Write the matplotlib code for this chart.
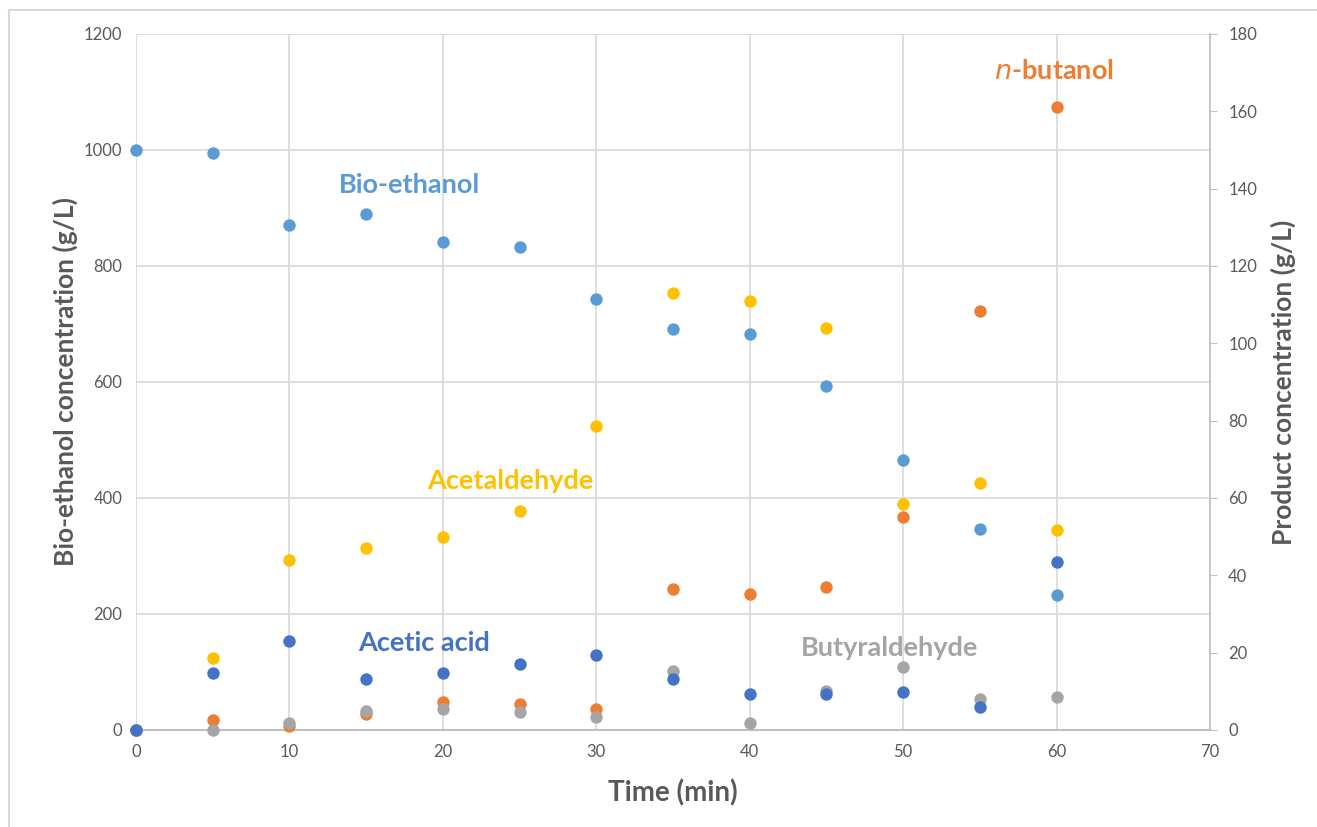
import matplotlib
matplotlib.use('Agg')
import matplotlib.pyplot as plt
from matplotlib.lines import Line2D

plt.rcParams['font.family'] = ['Lato', 'DejaVu Sans']

# data
time = [0, 5, 10, 15, 20, 25, 30, 35, 40, 45, 50, 55, 60]
ethanol = [1000, 995, 871, 890, 841, 833, 743, 691, 683, 593, 466, 347, 232]          # left axis
acetaldehyde = [0, 18.6, 44, 47, 50, 56.6, 78.6, 113, 111, 104, 58.4, 64, 51.7]        # right axis
butanol = [0, 2.6, 1.0, 4.2, 7.2, 6.7, 5.4, 36.5, 35.2, 37, 55, 108.4, 161]
butyraldehyde = [0, 0, 1.8, 4.9, 5.4, 4.7, 3.4, 15.3, 1.8, 10, 16.3, 8, 8.6]
acetic = [0, 14.8, 23, 13.2, 14.8, 17, 19.4, 13.2, 9.3, 9.3, 9.8, 6, 43.4]

C_ETH = '#5B9BD5'
C_ALD = '#FFC000'
C_BUT = '#ED7D31'
C_BAL = '#A5A5A5'
C_ACE = '#4472C4'
TXT = '#595959'
GRID = '#D9D9D9'

fig = plt.figure(figsize=(13.17, 8.27), dpi=100)
fig.patch.set_facecolor('white')
# frame: only top and left edges show
fig.lines.append(Line2D([0.0065, 0.0065], [0, 0.9875], transform=fig.transFigure,
                        color='#D9D9D9', linewidth=1.5))
fig.lines.append(Line2D([0.0065, 1.0], [0.9875, 0.9875], transform=fig.transFigure,
                        color='#D9D9D9', linewidth=1.5))

ax = fig.add_axes([0.1033, 0.1173, 0.8155, 0.8416])
ax2 = ax.twinx()

ax.set_xlim(0, 70)
ax.set_ylim(0, 1200)
ax2.set_ylim(0, 180)
ax.set_xticks(range(0, 71, 10))
ax.set_yticks(range(0, 1201, 200))
ax2.set_yticks(range(0, 181, 20))
ax.grid(True, color=GRID, linewidth=1.2)
ax.set_axisbelow(True)

for s in ['top', 'left']:
    ax.spines[s].set_visible(False)
    ax2.spines[s].set_visible(False)
ax.spines['right'].set_visible(False)
ax.spines['bottom'].set_color('#BFBFBF')
ax.spines['bottom'].set_linewidth(1.5)
ax2.spines['bottom'].set_visible(False)
ax2.spines['right'].set_color('#BFBFBF')
ax2.spines['right'].set_linewidth(1.2)

ax.tick_params(axis='both', length=0, labelsize=12, labelcolor=TXT, pad=10)
ax2.tick_params(axis='y', length=5, color='#BFBFBF', labelsize=12, labelcolor=TXT, pad=8)

ms = 80
ax.scatter(time, ethanol, s=ms, color=C_ETH, zorder=3, linewidths=0, clip_on=False)
ax2.scatter(time, acetaldehyde, s=ms, color=C_ALD, zorder=3, linewidths=0, clip_on=False)
ax2.scatter(time, butanol, s=ms, color=C_BUT, zorder=4, linewidths=0, clip_on=False)
ax2.scatter(time, butyraldehyde, s=ms, color=C_BAL, zorder=5, linewidths=0, clip_on=False)
ax2.scatter(time, acetic, s=ms, color=C_ACE, zorder=6, linewidths=0, clip_on=False)

ax.set_xlabel('Time (min)', fontsize=20, fontweight='bold', color=TXT, labelpad=14)
ax.set_ylabel('Bio-ethanol concentration (g/L)', fontsize=19, fontweight='bold', color=TXT, labelpad=4)
ax2.set_ylabel('Product concentration (g/L)', fontsize=19, fontweight='bold', color=TXT, labelpad=10)

lab = dict(fontsize=19.5, fontweight='bold', ha='center', va='center')
ax.text(17.8, 940, 'Bio-ethanol', color=C_ETH, **lab)
ax.text(24.4, 430, 'Acetaldehyde', color=C_ALD, **lab)
ax.text(18.8, 150, 'Acetic acid', color=C_ACE, **lab)
ax.text(49.1, 142, 'Butyraldehyde', color=C_BAL, **lab)
ax.text(59.8, 1136, r'$\mathbf{\it{n}}$' + '-butanol', color=C_BUT, **lab)

plt.savefig('out.png', dpi=100, facecolor='white')
